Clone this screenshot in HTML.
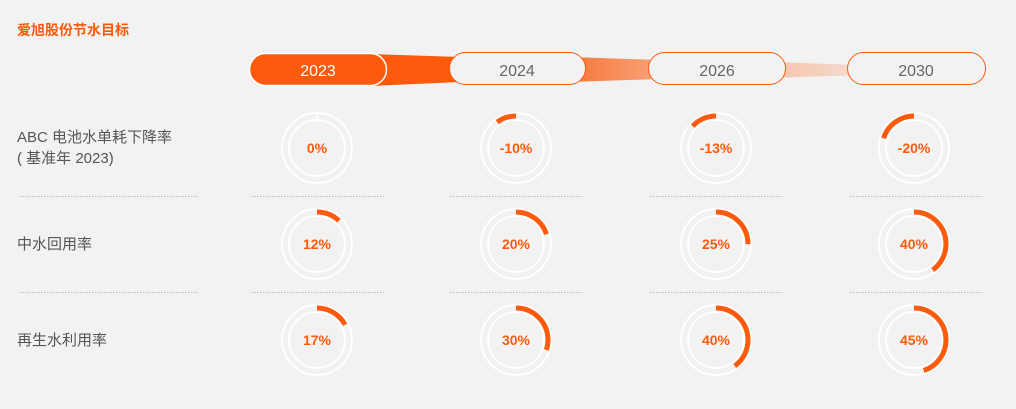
<!DOCTYPE html>
<html><head><meta charset="utf-8"><style>
html,body{margin:0;padding:0;background:#f2f2f2;}
body{width:1016px;height:404px;overflow:hidden;font-family:"Liberation Sans","Noto Sans CJK SC",sans-serif;}
</style></head><body>
<svg width="1016" height="404" viewBox="0 0 1016 404" xmlns="http://www.w3.org/2000/svg" font-family="Liberation Sans, Noto Sans CJK SC, sans-serif">
<defs>
<linearGradient id="g1" x1="0" x2="1"><stop offset="0" stop-color="#f9773a"/><stop offset="1" stop-color="#f7a27a"/></linearGradient>
<linearGradient id="g2" x1="0" x2="1"><stop offset="0" stop-color="#f6c2a8"/><stop offset="1" stop-color="#f3ddd2"/></linearGradient>
</defs>
<rect width="1016" height="404" fill="#f2f2f2"/>
<text x="17" y="35" font-size="14" font-weight="bold" fill="#fc5a0c">爱旭股份节水目标</text>
<!-- connectors -->
<polygon points="370,54 460,57 460,82 370,86" fill="#fc5a0c"/>
<polygon points="570,57 660,60 660,79 570,82" fill="url(#g1)"/>
<polygon points="770,62 860,65 860,75 770,78" fill="url(#g2)"/>
<!-- pills -->
<rect x="249.5" y="53.5" width="137" height="32" rx="16" fill="#fc5a0c" stroke="#fff" stroke-width="1.5"/>
<text x="318" y="76" font-size="16" fill="#fff" text-anchor="middle">2023</text>
<rect x="449.5" y="52.5" width="136" height="32" rx="16" fill="#f2f2f2" stroke="#fc5a0c" stroke-width="1"/>
<text x="517" y="76" font-size="16" fill="#666" text-anchor="middle">2024</text>
<rect x="648.5" y="52.5" width="137" height="32" rx="16" fill="#f2f2f2" stroke="#fc5a0c" stroke-width="1"/>
<text x="717" y="76" font-size="16" fill="#666" text-anchor="middle">2026</text>
<rect x="847.5" y="52.5" width="138" height="32" rx="16" fill="#f2f2f2" stroke="#fc5a0c" stroke-width="1"/>
<text x="916" y="76" font-size="16" fill="#666" text-anchor="middle">2030</text>
<!-- labels -->
<g font-size="15" fill="#555">
<text x="17" y="142">ABC 电池水单耗下降率</text>
<text x="17" y="163">( 基准年 2023)</text>
<text x="17" y="249">中水回用率</text>
<text x="17" y="345">再生水利用率</text>
</g>
<!-- dotted separators -->
<g stroke="#bbb" stroke-width="1" stroke-dasharray="1.5 1.5">
<line x1="20" y1="196.5" x2="198" y2="196.5"/><line x1="251" y1="196.5" x2="384" y2="196.5"/><line x1="450" y1="196.5" x2="583" y2="196.5"/><line x1="650" y1="196.5" x2="783" y2="196.5"/><line x1="850" y1="196.5" x2="983" y2="196.5"/>
<line x1="20" y1="292.5" x2="198" y2="292.5"/><line x1="251" y1="292.5" x2="384" y2="292.5"/><line x1="450" y1="292.5" x2="583" y2="292.5"/><line x1="650" y1="292.5" x2="783" y2="292.5"/><line x1="850" y1="292.5" x2="983" y2="292.5"/>
</g>
<!-- ring template drawn per cell -->
<g id="cells" font-size="14" font-weight="bold" fill="#fc5a0c" text-anchor="middle">
</g>
<script>
var cols=[317,516,716,914], rows=[148,244,340];
var data=[[0,-10,-13,-20],[12,20,25,40],[17,30,40,45]];
var ns="http://www.w3.org/2000/svg", g=document.getElementById('cells');
function el(t,a){var e=document.createElementNS(ns,t);for(var k in a)e.setAttribute(k,a[k]);g.appendChild(e);return e;}
var C=2*Math.PI*32;
for(var r=0;r<3;r++)for(var c=0;c<4;c++){
 var x=cols[c],y=rows[r],v=data[r][c];
 el('circle',{cx:x,cy:y,r:35,fill:'none',stroke:'#fff','stroke-width':2});
 el('circle',{cx:x,cy:y,r:28,fill:'none',stroke:'#fff','stroke-width':2});
 if(v!==0){var L=C*Math.abs(v)/100;
  var tr=v>0?'rotate(-90 '+x+' '+y+')':'translate('+(2*x)+',0) scale(-1,1) rotate(-90 '+x+' '+y+')';
  el('circle',{cx:x,cy:y,r:32,fill:'none',stroke:'#fc5a0c','stroke-width':5,'stroke-dasharray':L+' '+C,transform:tr});}
 else el('line',{x1:x,y1:y-37,x2:x,y2:y-26,stroke:'#fff','stroke-width':1.5});
 var t=el('text',{x:x,y:y+5});t.textContent=v+'%';
}
</script>
</svg>
</body></html>
